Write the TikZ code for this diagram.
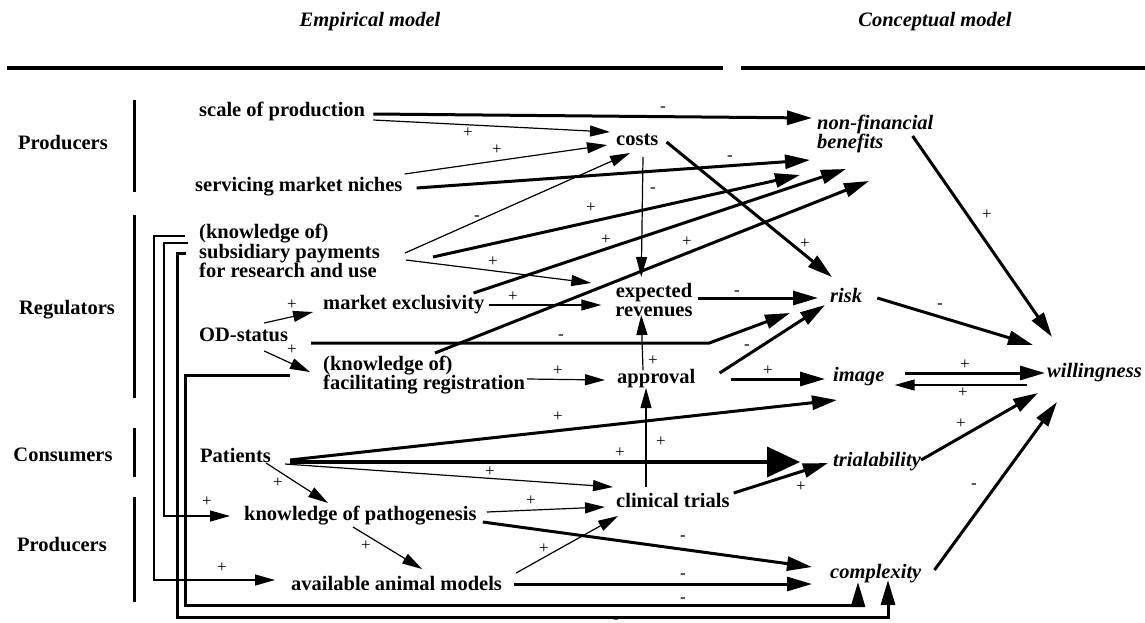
\documentclass[tikz,border=0pt]{standalone}
\usepackage{fontspec}
\setmainfont{Liberation Serif}
\usetikzlibrary{arrows.meta,positioning}
\newcommand{\Lsz}{\fontsize{20.5}{19.5}\selectfont}
\newcommand{\Ssz}{\fontsize{17}{17}\selectfont}
\tikzset{%
	factor/.style  = {font=\Lsz\bfseries, inner sep=0pt, anchor=west, align=left},
	concept/.style = {font=\Lsz\bfseries\itshape, inner sep=0pt, anchor=west, align=left},
	actor/.style   = {font=\Lsz\bfseries, inner sep=0pt},
	sgn/.style     = {font=\Ssz, inner sep=0pt},
	thn/.style     = {line width=1.2pt, -{Triangle[length=20pt,width=11pt]}},
	thk/.style     = {line width=3pt, -{Triangle[length=25pt,width=14pt]}},
	bigarr/.style  = {line width=3.5pt, -{Triangle[length=33pt,width=30pt]}},
	bar/.style     = {line width=3pt},
}

\begin{document}
\begin{tikzpicture}[x=1pt,y=-1pt]
	\useasboundingbox (0,0) rectangle (1145,622);
	% headings
	\node[actor,font=\Lsz\bfseries\itshape] (emp) at (370,22) {Empirical model};
	\node[actor,font=\Lsz\bfseries\itshape] (con) at (935,22) {Conceptual model};
	\draw[line width=3.5pt] (7,68) -- (723,68);
	\draw[line width=3.5pt] (741,68) -- (1145,68);
	
	% actors
	\node[actor] (prod1) at (63,143) {Producers};
	\node[actor] (regu) at (67,310) {Regulators};
	\node[actor] (cons) at (63,455) {Consumers};
	\node[actor] (prod2) at (62,545) {Producers};
	\draw[bar] (134,100) -- (134,192);
	\draw[bar] (134,215) -- (134,398);
	\draw[bar] (134,428) -- (134,477);
	\draw[bar] (134,497) -- (134,602);
	
	% empirical factors
	\node[factor] (scale) at (199,111) {scale of production};
	\node[factor] (niche) at (195,187) {servicing market niches};
	\node[factor] (subsid) at (199,251) {(knowledge of)\\subsidiary payments\\for research and use};
	\node[factor] (odst) at (199,335) {OD-status};
	\node[factor] (mexcl) at (323,305) {market exclusivity};
	\node[factor] (facil) at (323,375) {(knowledge of)\\facilitating registration};
	\node[factor] (patients) at (200,455) {Patients};
	\node[factor] (kpath) at (244,516) {knowledge of pathogenesis};
	\node[factor] (animal) at (291,583) {available animal models};
	\node[factor] (costs) at (616,140) {costs};
	\node[factor,anchor=center,align=center] (exprev) at (654,300) {expected\\revenues};
	\node[factor] (approval) at (617,379) {approval};
	\node[factor] (clin) at (616,500) {clinical trials};
	
	% conceptual factors
	\node[concept] (nfb) at (817,134) {non-financial\\benefits};
	\node[concept] (risk) at (830,295) {risk};
	\node[concept] (image) at (833,377) {image};
	\node[concept] (trial) at (833,462) {trialability};
	\node[concept] (cmplx) at (830,574) {complexity};
	\node[concept] (will) at (1047,373) {willingness};
	
	% links
	\draw[thk] ([shift={(8,3)}]scale.east) -- ([shift={(-5,-16)}]nfb.west);
	\draw[thn] ([shift={(8,9)}]scale.east) -- ([shift={(-6,-8)}]costs.west);
	\draw[thn] ([shift={(2,-13)}]niche.east) -- ([shift={(-9,5)}]costs.west);
	\draw[thk] ([shift={(14,1)}]niche.east) -- ([shift={(-7,26)}]nfb.west);
	\draw[thn] ([shift={(25,2)}]subsid.east) -- ([shift={(14,13)}]costs.west);
	\draw[thk] ([shift={(53,6)}]subsid.east) -- ([shift={(-17,41)}]nfb.west);
	\draw[thn] ([shift={(26,9)}]subsid.east) -- ([shift={(-24,-17)}]exprev.west);
	\draw[thn] ([shift={(27,17)}]costs.west) -- ([shift={(26,-23)}]exprev.west);
	\draw[thk] ([shift={(8,2)}]costs.east) -- ([shift={(2,-18)}]risk.west);
	\draw[thk] ([shift={(-11,-12)}]mexcl.east) -- ([shift={(29,35)}]nfb.west);
	\draw[thn] ([shift={(4,0)}]mexcl.east) -- ([shift={(-14,5)}]exprev.west);
	\draw[thk] ([shift={(112,-22)}]facil.west) -- ([shift={(52,47)}]nfb.west);
	\draw[thn] ([shift={(-24,-12)}]odst.east) -- ([shift={(-10,7)}]mexcl.west);
	\draw[thn] ([shift={(-24,16)}]odst.east) -- ([shift={(-13,-3)}]facil.west);
	\draw[thk] ([shift={(23,8)}]odst.east) -- ++(398,0) -- ([shift={(-40,18)}]risk.west);
	\draw[thk] ([shift={(5,-2)}]exprev.east) -- ([shift={(-12,3)}]risk.west);
	\draw[thn] ([shift={(26,-9)}]approval.west) -- ([shift={(26,15)}]exprev.west);
	\draw[thk] ([shift={(24,-6)}]approval.east) -- ([shift={(-5,10)}]risk.west);
	\draw[thk] ([shift={(35,0)}]approval.east) -- ([shift={(-8,2)}]image.west);
	\draw[thn] ([shift={(2,4)}]facil.east) -- ([shift={(-12,1)}]approval.west);
	\draw[thk] ([shift={(19,5)}]patients.east) -- ([shift={(4,23)}]image.west);
	\draw[bigarr] ([shift={(19,7)}]patients.east) -- ([shift={(-33,0)}]trial.west);
	\draw[thn] ([shift={(14,9)}]patients.east) -- ([shift={(-3,-13)}]clin.west);
	\draw[thn] ([shift={(-5,8)}]patients.east) -- ([shift={(84,-13)}]kpath.west);
	\draw[thn] ([shift={(30,-13)}]clin.west) -- ([shift={(29,9)}]approval.west);
	\draw[thk] ([shift={(4,-7)}]clin.east) -- ([shift={(-5,1)}]trial.west);
	\draw[thn] ([shift={(10,-4)}]kpath.east) -- ([shift={(-11,7)}]clin.west);
	\draw[thk] ([shift={(6,6)}]kpath.east) -- ([shift={(-18,-7)}]cmplx.west);
	\draw[thn] ([shift={(109,11)}]kpath.west) -- ([shift={(131,-14)}]animal.west);
	\draw[thn] ([shift={(14,-10)}]animal.east) -- ([shift={(2,16)}]clin.west);
	\draw[thk] ([shift={(12,1)}]animal.east) -- ([shift={(-18,10)}]cmplx.west);
	\draw[thk] ([shift={(-21,2)}]nfb.east) -- ([shift={(5,-36)}]will.west);
	\draw[thk] ([shift={(15,3)}]risk.east) -- ([shift={(-14,-28)}]will.west);
	\draw[thk] ([shift={(20,-4)}]image.east) -- ([shift={(-2,0)}]will.west);
	\draw[thn] ([shift={(-20,12)}]will.west) -- ([shift={(10,8)}]image.east);
	\draw[thk] ([shift={(0,-2)}]trial.east) -- ([shift={(-9,20)}]will.west);
	\draw[thk] ([shift={(13,-4)}]cmplx.east) -- ([shift={(10,29)}]will.west);
	
	% feedback lines on the left
	\draw[thn] ([shift={(-14,-15)}]subsid.west) -- ++(-31,0) |- ([shift={(-16,-3)}]animal.west);
	\draw[thn] ([shift={(-11,-8)}]subsid.west) -- ++(-24,0) |- ([shift={(-14,0)}]kpath.west);
	\draw[thk] ([shift={(-13,2)}]subsid.west) -- ++(-9,0) |- ([shift={(58,43)}]cmplx.west) -- ([shift={(58,6)}]cmplx.west);
	\draw[thk] ([shift={(-33,0)}]facil.west) -- ++(-105,0) |- ([shift={(28,31)}]cmplx.west) -- ([shift={(28,8)}]cmplx.west);
	
	% signs
	\node[sgn] (s1) at (663,109) {-};
	\node[sgn] (s2) at (468,133) {+};
	\node[sgn] (s3) at (497,150) {+};
	\node[sgn] (s4) at (730,158) {-};
	\node[sgn] (s5) at (477,218) {-};
	\node[sgn] (s6) at (591,208) {+};
	\node[sgn] (s7) at (493,262) {+};
	\node[sgn] (s8) at (653,190) {-};
	\node[sgn] (s9) at (805,244) {+};
	\node[sgn] (s10) at (606,240) {+};
	\node[sgn] (s11) at (513,297) {+};
	\node[sgn] (s12) at (687,242) {+};
	\node[sgn] (s13) at (292,305) {+};
	\node[sgn] (s14) at (292,350) {+};
	\node[sgn] (s15) at (561,337) {-};
	\node[sgn] (s16) at (737,293) {-};
	\node[sgn] (s17) at (653,361) {+};
	\node[sgn] (s18) at (747,347) {-};
	\node[sgn] (s19) at (768,371) {+};
	\node[sgn] (s20) at (558,371) {+};
	\node[sgn] (s21) at (558,417) {+};
	\node[sgn] (s22) at (620,453) {+};
	\node[sgn] (s23) at (490,472) {+};
	\node[sgn] (s24) at (278,483) {+};
	\node[sgn] (s25) at (661,442) {+};
	\node[sgn] (s26) at (801,487) {+};
	\node[sgn] (s27) at (531,501) {+};
	\node[sgn] (s28) at (683,538) {-};
	\node[sgn] (s29) at (366,546) {+};
	\node[sgn] (s30) at (544,549) {+};
	\node[sgn] (s31) at (683,576) {-};
	\node[sgn] (s32) at (987,215) {+};
	\node[sgn] (s33) at (940,306) {-};
	\node[sgn] (s34) at (965,365) {+};
	\node[sgn] (s35) at (963,393) {+};
	\node[sgn] (s36) at (961,424) {+};
	\node[sgn] (s37) at (974,486) {-};
	\node[sgn] (s38) at (207,502) {+};
	\node[sgn] (s39) at (222,568) {+};
	\node[sgn] (s40) at (683,600) {-};
	\node[sgn] (s41) at (616,621) {-};
\end{tikzpicture}
\end{document}
